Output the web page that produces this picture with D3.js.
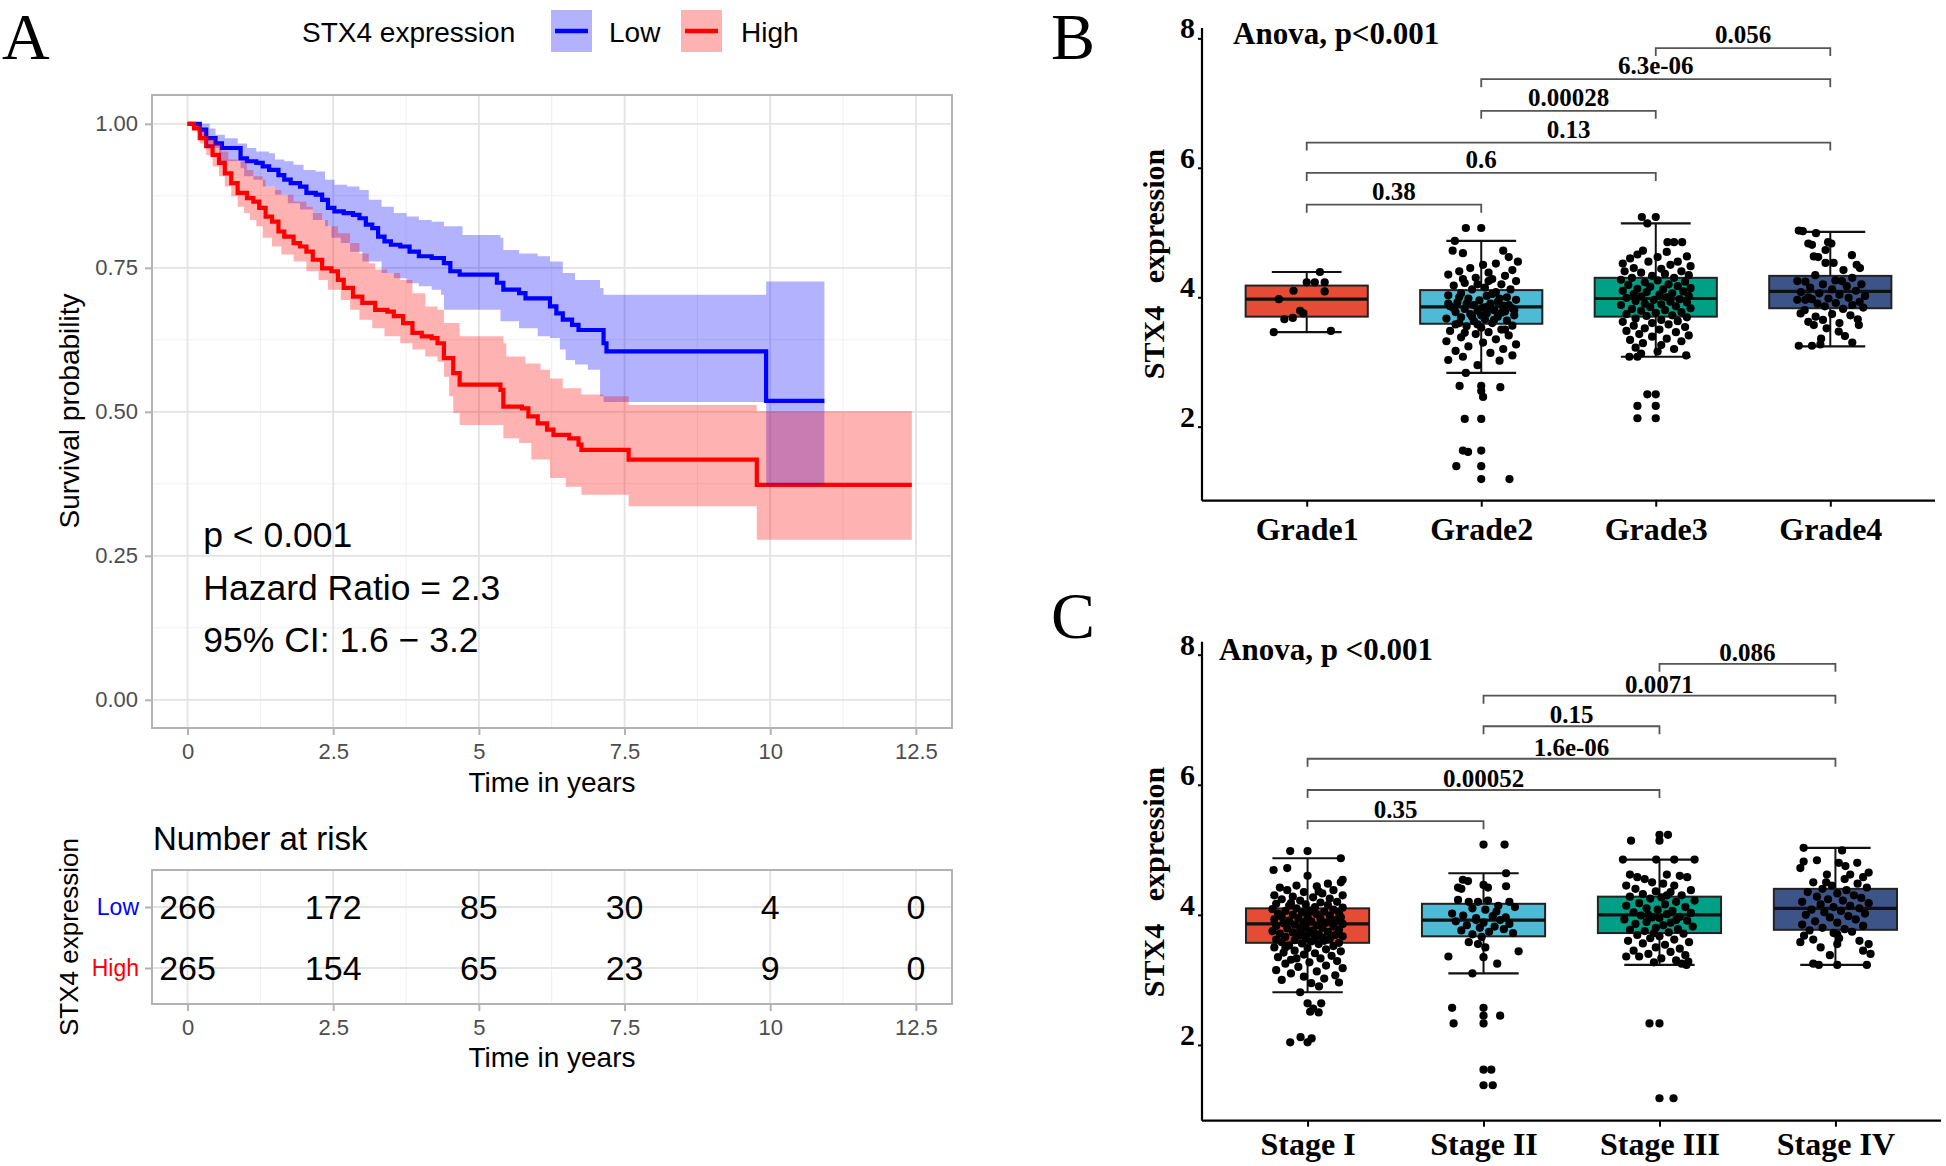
<!DOCTYPE html>
<html>
<head>
<meta charset="utf-8">
<script src="https://cdn.jsdelivr.net/npm/d3@7"></script>
<style>
  body { margin: 0; background: #fff; }
  svg { display: block; }
</style>
</head>
<body>
<script>
// ---------- panel A : Kaplan-Meier data (time in years, survival) ----------
const groups = ["Low", "High"];
const groupColors = ["#0000ff", "#ff0000"];
const riskTimes = [0, 2.5, 5, 7.5, 10, 12.5];
const riskLow = [266, 172, 85, 30, 4, 0];
const riskHigh = [265, 154, 65, 23, 9, 0];
const lowEnd = 10.93, highEnd = 12.43;

const lowCurve = [[0,1],[0.21,0.99],[0.32,0.975],[0.48,0.966],[0.59,0.958],[0.91,0.94],[1.02,0.935],[1.18,0.932],[1.29,0.926],[1.4,0.92],[1.56,0.911],[1.66,0.903],[1.77,0.897],[1.93,0.891],[2.04,0.88],[2.2,0.877],[2.31,0.868],[2.41,0.854],[2.52,0.848],[2.68,0.845],[2.84,0.842],[2.95,0.836],[3.06,0.825],[3.17,0.819],[3.27,0.804],[3.38,0.796],[3.49,0.79],[3.65,0.787],[3.81,0.778],[3.97,0.77],[4.19,0.767],[4.4,0.758],[4.51,0.744],[4.67,0.738],[5.31,0.724],[5.42,0.712],[5.69,0.706],[5.8,0.697],[6.22,0.683],[6.33,0.671],[6.44,0.66],[6.6,0.651],[6.71,0.642],[7.14,0.619],[7.19,0.605],[9.93,0.519]];
const lowUpper = [[0,1],[0.38,0.992],[0.48,0.981],[0.64,0.975],[0.86,0.966],[1.02,0.958],[1.18,0.952],[1.4,0.949],[1.5,0.938],[1.66,0.935],[1.82,0.929],[1.99,0.92],[2.2,0.917],[2.36,0.903],[2.52,0.894],[2.74,0.891],[2.95,0.885],[3.11,0.868],[3.33,0.856],[3.54,0.845],[3.76,0.839],[3.97,0.833],[4.19,0.83],[4.4,0.822],[4.72,0.807],[5.37,0.802],[5.42,0.781],[5.69,0.775],[6.01,0.77],[6.22,0.761],[6.44,0.741],[6.65,0.729],[7.08,0.715],[7.14,0.703],[9.93,0.726]];
const lowLower = [[0,1],[0.11,0.998],[0.21,0.978],[0.32,0.958],[0.54,0.935],[0.91,0.923],[0.97,0.909],[1.13,0.903],[1.29,0.891],[1.5,0.877],[1.72,0.862],[1.93,0.851],[2.15,0.833],[2.36,0.822],[2.47,0.802],[2.63,0.793],[2.79,0.778],[3,0.761],[3.33,0.741],[3.54,0.732],[3.76,0.723],[3.97,0.718],[4.19,0.712],[4.35,0.703],[4.4,0.677],[5.37,0.657],[5.69,0.645],[6.01,0.631],[6.22,0.628],[6.39,0.608],[6.49,0.59],[6.65,0.582],[6.87,0.573],[7.08,0.527],[7.14,0.517],[9.93,0.373]];

const highCurve = [[0,1],[0.11,0.992],[0.21,0.975],[0.32,0.961],[0.43,0.946],[0.54,0.932],[0.64,0.914],[0.75,0.897],[0.86,0.88],[1.02,0.871],[1.13,0.865],[1.23,0.854],[1.34,0.839],[1.45,0.83],[1.56,0.813],[1.66,0.804],[1.82,0.793],[1.93,0.787],[2.04,0.778],[2.15,0.764],[2.31,0.749],[2.47,0.744],[2.58,0.729],[2.68,0.715],[2.84,0.7],[3,0.689],[3.22,0.677],[3.43,0.674],[3.54,0.666],[3.7,0.654],[3.86,0.637],[4.02,0.631],[4.19,0.628],[4.29,0.619],[4.4,0.593],[4.56,0.567],[4.67,0.547],[5.37,0.538],[5.42,0.509],[5.74,0.506],[5.85,0.492],[6.01,0.48],[6.17,0.469],[6.28,0.46],[6.55,0.454],[6.71,0.443],[6.76,0.434],[7.57,0.417],[9.77,0.373]];
const highUpper = [[0,1],[0.21,0.99],[0.32,0.975],[0.48,0.966],[0.59,0.952],[0.7,0.938],[0.86,0.935],[1.02,0.92],[1.13,0.909],[1.29,0.903],[1.34,0.891],[1.5,0.885],[1.61,0.877],[1.82,0.865],[2.04,0.856],[2.15,0.845],[2.31,0.833],[2.41,0.822],[2.58,0.81],[2.79,0.793],[2.95,0.775],[3.11,0.758],[3.22,0.747],[3.43,0.741],[3.65,0.729],[3.86,0.706],[4.08,0.683],[4.29,0.677],[4.4,0.654],[4.67,0.631],[5.42,0.619],[5.47,0.596],[5.8,0.584],[6.06,0.573],[6.22,0.558],[6.44,0.541],[6.76,0.53],[7.14,0.527],[7.57,0.512],[9.77,0.501]];
const highLower = [[0,1],[0.11,0.995],[0.21,0.966],[0.32,0.946],[0.43,0.926],[0.54,0.909],[0.64,0.891],[0.75,0.874],[0.86,0.856],[0.97,0.845],[1.07,0.833],[1.18,0.822],[1.29,0.802],[1.45,0.787],[1.61,0.773],[1.82,0.761],[2.04,0.744],[2.25,0.729],[2.41,0.712],[2.63,0.694],[2.79,0.677],[2.95,0.66],[3.17,0.645],[3.38,0.631],[3.65,0.619],[3.86,0.608],[4.08,0.596],[4.29,0.587],[4.4,0.561],[4.49,0.527],[4.56,0.498],[4.67,0.477],[5.42,0.454],[5.69,0.446],[5.9,0.417],[6.22,0.385],[6.49,0.37],[6.76,0.356],[7.57,0.336],[9.77,0.278]];

const kmNotes = ["p < 0.001", "Hazard Ratio = 2.3", "95% CI: 1.6 \u2212 3.2"];

// ---------- panels B / C : boxplot data ----------
const gradeCats = ["Grade1", "Grade2", "Grade3", "Grade4"];
// [lower whisker, Q1, median, Q3, upper whisker]
const gradeBox = [[3.46,3.70,3.97,4.18,4.39],[2.83,3.59,3.85,4.11,4.87],[3.08,3.70,3.98,4.30,5.14],[3.24,3.83,4.09,4.33,5.01]];
// [from, to, label, height]
const gradeComps = [[0,1,"0.38",5.43],[0,2,"0.6",5.92],[0,3,"0.13",6.39],[1,2,"0.00028",6.88],[1,3,"6.3e-06",7.37],[2,3,"0.056",7.85]];

const stageCats = ["Stage I", "Stage II", "Stage III", "Stage IV"];
const stageBox = [[2.81,3.57,3.86,4.10,4.87],[3.10,3.67,3.92,4.17,4.64],[3.23,3.72,4.00,4.28,4.85],[3.23,3.77,4.10,4.40,5.03]];
const stageComps = [[0,1,"0.35",5.44],[0,2,"0.00052",5.92],[0,3,"1.6e-06",6.40],[1,2,"0.15",6.90],[1,3,"0.0071",7.37],[2,3,"0.086",7.86]];

const boxFills = ["#E64B35", "#4DBBD5", "#00A087", "#3C5488"];

// jittered samples: [jitter (-1..1), expression]
const grade1Pts = [[0.36,4.39],[0,4.23],[0.22,4.23],[0.49,4.23],[-0.36,4.10],[0.49,4.09],[-0.76,3.97],[-0.18,3.79],[-0.09,3.75],[-0.61,3.66],[-0.38,3.68],[-0.9,3.46],[0.66,3.48]];
const grade2Pts = [[-0.42,5.07],[0,5.07],[-0.72,4.87],[-0.78,4.72],[-0.5,4.68],[0.6,4.72],[0.75,4.62],[1,4.55],[0.05,4.5],[-0.3,4.45],[0.4,4.52],[-0.6,4.4],[0.85,4.42],[0.2,4.38],[-0.9,4.35],[0.65,4.33],[-0.15,4.3],[0.95,4.25],[0.3,4.28],[-0.45,4.22],[0.55,4.2],[-0.75,4.18],[0.1,4.15],[-0.25,4.12],[0.8,4.12],[0.4,4.08],[-0.55,4.06],[-0.9,4.03],[0.15,4.02],[0.7,4],[-0.35,3.98],[0.95,3.96],[-0.05,3.95],[0.45,3.93],[-0.65,3.92],[0.25,3.9],[-0.2,3.88],[0.6,3.87],[-0.85,3.86],[0.05,3.84],[0.85,3.83],[-0.45,3.82],[0.35,3.8],[-0.1,3.79],[0.65,3.78],[-0.7,3.77],[0.15,3.75],[-0.3,3.74],[0.9,3.72],[0.45,3.7],[-0.55,3.69],[-0.95,3.67],[0.1,3.66],[0.7,3.64],[-0.2,3.63],[0.3,3.6],[-0.7,3.58],[0.85,3.56],[-0.4,3.55],[0,3.53],[0.55,3.5],[-0.85,3.48],[0.2,3.46],[-0.15,3.43],[0.75,3.41],[-0.55,3.38],[0.4,3.35],[-0.95,3.32],[0.05,3.3],[0.95,3.27],[-0.35,3.24],[0.6,3.2],[-0.7,3.17],[0.25,3.14],[0.85,3.1],[-0.5,3.08],[0.5,3.02],[-0.1,2.95],[-0.9,3.03],[-0.42,2.83],[-0.6,4],[0.3,4.05],[-0.1,4.2],[0.5,3.98],[-0.4,3.9],[0.15,3.85],[-0.75,3.83],[0.75,3.88],[-0.25,3.7],[0.55,3.76],[-0.6,3.6],[0.35,3.65],[0,3.72],[-0.45,3.45],[0.65,3.5],[-0.1,3.58],[0.2,4.25],[-0.5,4.28],[0.9,3.8],[-0.9,3.9],[-0.59,2.63],[0,2.63],[0,2.55],[0.05,2.46],[0.52,2.61],[-0.45,2.12],[0,2.12],[-0.5,1.63],[-0.36,1.61],[0,1.63],[-0.68,1.39],[0,1.39],[0,1.19],[0.77,1.19]];
const grade3Pts = [[-0.38,5.24],[0,5.24],[-0.23,5.14],[-0.23,2.5],[0,2.5],[-0.5,2.32],[0,2.32],[-0.5,2.13],[0,2.13],[-0.72,3.08],[-0.5,3.08],[0.83,3.1],[0.32,4.85],[0.5,4.85],[0.72,4.85],[-0.35,4.72],[-0.5,4.66],[0.85,4.63],[-0.7,4.6],[0.05,4.62],[0.3,4.7],[0.6,4.55],[-0.9,4.52],[-0.2,4.55],[0.95,4.48],[0.4,4.5],[-0.6,4.45],[0.15,4.44],[-0.85,4.4],[0.7,4.4],[-0.4,4.38],[0.25,4.36],[0.9,4.34],[-0.1,4.33],[-0.65,4.3],[0.5,4.3],[-0.95,4.27],[0.05,4.26],[0.8,4.24],[-0.3,4.23],[0.35,4.2],[-0.75,4.19],[0.6,4.17],[-0.15,4.16],[0.95,4.14],[-0.5,4.13],[0.2,4.12],[-0.9,4.1],[0.75,4.09],[-0.25,4.08],[0.45,4.06],[-0.6,4.05],[0.1,4.04],[0.9,4.02],[-0.4,4.01],[0.3,4],[-0.8,3.99],[0.65,3.97],[-0.05,3.96],[-0.55,3.94],[0.4,3.93],[0.85,3.92],[-0.3,3.9],[0.15,3.89],[-0.95,3.88],[0.55,3.86],[-0.15,3.85],[0.95,3.83],[-0.65,3.82],[0.25,3.8],[-0.4,3.79],[0.7,3.77],[0,3.76],[-0.8,3.74],[0.45,3.72],[-0.25,3.71],[0.85,3.69],[-0.55,3.67],[0.15,3.65],[0.6,3.63],[-0.9,3.62],[-0.1,3.6],[0.35,3.58],[-0.6,3.56],[0.8,3.54],[-0.3,3.52],[0.1,3.5],[-0.8,3.48],[0.55,3.46],[-0.45,3.43],[0.9,3.41],[-0.1,3.39],[0.3,3.36],[-0.7,3.34],[0.7,3.32],[-0.35,3.29],[0.15,3.26],[-0.55,3.22],[0.5,3.2],[0.05,3.16],[-0.4,3.13]];
const grade4Pts = [[-0.86,5.03],[-0.75,5.02],[-0.39,4.99],[-0.6,4.83],[-0.5,4.81],[-0.06,4.85],[0.03,4.83],[-0.13,4.73],[-0.45,4.63],[-0.33,4.62],[0.59,4.65],[0.81,4.45],[0.72,4.5],[-0.13,4.53],[0.09,4.53],[0.36,4.42],[-0.41,4.34],[-0.9,4.25],[-0.68,4.24],[0.14,4.26],[0.32,4.25],[0.6,4.3],[0.85,4.2],[-0.2,4.2],[0.45,4.17],[-0.55,4.15],[0.05,4.12],[0.7,4.1],[-0.8,4.08],[-0.3,4.06],[0.25,4.04],[0.95,4.02],[-0.6,4],[0.5,3.99],[-0.05,3.98],[-0.9,3.96],[-0.68,3.96],[-0.5,3.97],[0.8,3.93],[0.15,3.91],[-0.35,3.9],[0.6,3.88],[-0.15,3.86],[0.9,3.84],[0.35,3.82],[-0.7,3.8],[-0.81,3.75],[0.05,3.74],[0.55,3.72],[-0.4,3.7],[0.75,3.66],[-0.2,3.65],[-0.6,3.62],[-0.45,3.57],[0.25,3.6],[0.78,3.57],[0.23,3.47],[-0.1,3.52],[0.4,3.4],[-0.25,3.36],[-0.86,3.25],[-0.5,3.25],[-0.27,3.27],[0.6,3.3]];

const stage1Pts = [[-0.47,4.98],[0,4.98],[0.9,4.87],[0.31,2.9],[-0.2,2.81],[0,2.64],[0.37,2.64],[0.07,2.51],[0.3,2.5],[0.15,2.56],[-0.47,2.04],[-0.19,2.12],[0,2.04],[0.11,2.1],[-0.92,4.69],[0.95,4.54],[-0.55,4.72],[0,4.6],[0.55,4.48],[0.9,4.5],[-0.3,4.45],[-0.75,4.42],[0.25,4.44],[-0.55,4.38],[0.7,4.38],[-0.1,4.35],[0.4,4.33],[-0.9,4.3],[0.95,4.3],[-0.4,4.28],[0.15,4.27],[0.6,4.25],[-0.7,4.24],[-0.2,4.22],[0.8,4.2],[0.35,4.19],[-0.85,4.17],[-0.05,4.16],[0.55,4.15],[-0.5,4.14],[0.2,4.12],[0.95,4.11],[-0.3,4.1],[-0.95,4.09],[0.7,4.08],[0.05,4.07],[-0.6,4.06],[0.45,4.05],[-0.15,4.04],[0.85,4.03],[-0.8,4.02],[0.25,4.01],[-0.4,4],[0.6,3.99],[0,3.98],[-0.7,3.97],[0.9,3.96],[-0.25,3.95],[0.35,3.94],[-0.9,3.93],[0.75,3.92],[-0.5,3.91],[0.1,3.9],[-0.1,3.89],[0.5,3.88],[-0.65,3.87],[0.95,3.86],[-0.35,3.85],[0.25,3.84],[-0.85,3.83],[0.7,3.82],[-0.05,3.81],[0.4,3.8],[-0.55,3.79],[-0.2,3.78],[0.85,3.77],[0.15,3.76],[-0.95,3.75],[0.55,3.74],[-0.4,3.73],[0.05,3.72],[-0.75,3.71],[0.3,3.7],[0.75,3.69],[-0.25,3.68],[0.95,3.67],[-0.6,3.66],[0.2,3.65],[-0.05,3.64],[0.6,3.63],[-0.85,3.62],[-0.35,3.61],[0.45,3.6],[0.1,3.59],[-0.7,3.58],[0.85,3.57],[-0.15,3.56],[0.3,3.55],[-0.5,3.53],[0.7,3.52],[-0.9,3.5],[0,3.49],[0.5,3.47],[-0.35,3.45],[0.9,3.44],[-0.65,3.42],[0.2,3.41],[-0.1,3.39],[0.65,3.37],[-0.8,3.35],[0.35,3.33],[-0.45,3.31],[0.8,3.29],[0.05,3.27],[-0.6,3.25],[0.5,3.22],[-0.25,3.2],[0.95,3.18],[-0.85,3.15],[0.25,3.13],[-0.45,3.1],[0.75,3.07],[-0.1,3.05],[0.45,3.02],[-0.7,3],[0.85,2.96],[0.1,2.95],[-0.3,3.33],[0.6,3.9],[-0.45,4.18],[0.3,4.36],[-0.15,3.7],[0.15,4.05],[-0.6,3.5],[0.4,3.65]];
const stage2Pts = [[0,5.08],[0.57,5.08],[-0.85,2.57],[0,2.57],[0,2.45],[0.45,2.45],[-0.81,2.33],[0,2.33],[0,1.62],[0.21,1.62],[0,1.38],[0.25,1.38],[0.61,4.64],[-0.56,4.54],[-0.42,4.52],[0,4.46],[0.12,4.42],[-0.69,4.42],[-0.6,4.4],[0.61,4.44],[-0.69,4.23],[-0.4,4.2],[-0.15,4.2],[0.12,4.22],[0.7,4.2],[0.85,4.12],[-0.3,4.1],[0.05,4.08],[0.35,4.05],[-0.85,4.02],[-0.55,3.99],[0.25,3.98],[0.6,3.96],[-0.2,3.95],[0.45,3.92],[-0.75,3.9],[0,3.88],[0.7,3.86],[-0.45,3.84],[0.3,3.82],[-0.1,3.8],[0.55,3.78],[-0.6,3.76],[0.15,3.74],[0.8,3.72],[-0.3,3.7],[-0.05,3.66],[-0.15,3.55],[0.05,3.5],[-0.4,3.58],[0.95,3.44],[-0.95,3.36],[0.37,3.25],[-0.3,3.1],[0,3.35],[-0.2,3.92],[0.4,4.14]];
const stage3Pts = [[-0.77,5.14],[0,5.23],[0.23,5.23],[0,5.14],[-0.27,2.33],[0,2.33],[0,1.18],[0.38,1.18],[-0.99,4.85],[-0.09,4.85],[0.4,4.85],[0.95,4.85],[0.73,3.23],[0.78,3.28],[-0.8,4.62],[-0.6,4.58],[0.2,4.62],[0.55,4.6],[0.75,4.58],[-0.4,4.55],[-0.2,4.5],[0.1,4.48],[-0.9,4.45],[0.4,4.45],[-0.65,4.4],[0.85,4.38],[-0.1,4.36],[0.3,4.35],[-0.45,4.32],[0.6,4.3],[-0.8,4.28],[0.05,4.27],[-0.25,4.25],[0.95,4.22],[0.45,4.2],[-0.55,4.18],[0.15,4.16],[-0.9,4.14],[0.7,4.12],[-0.35,4.1],[-0.05,4.08],[0.35,4.06],[-0.7,4.04],[0.85,4.03],[0.2,4.01],[-0.5,3.99],[0.55,3.97],[-0.2,3.96],[0,3.95],[-0.95,3.93],[0.75,3.91],[-0.35,3.89],[0.3,3.88],[-0.65,3.86],[0.1,3.84],[0.9,3.82],[-0.1,3.8],[0.5,3.78],[-0.8,3.77],[-0.4,3.75],[0.25,3.73],[0.65,3.71],[-0.6,3.69],[0,3.67],[-0.25,3.64],[0.4,3.62],[-0.85,3.6],[0.8,3.58],[-0.45,3.56],[0.15,3.54],[-0.1,3.5],[0.55,3.48],[-0.7,3.45],[0.3,3.43],[-0.3,3.4],[0.7,3.38],[-0.55,3.36],[-0.9,3.36],[0.05,3.33],[0.45,3.3],[-0.15,3.27],[0.6,3.25],[0.2,4.3],[-0.3,4],[0.45,3.92],[-0.15,3.72]];
const stage4Pts = [[-0.86,5.03],[0.18,4.99],[-0.86,4.82],[-0.5,4.84],[-0.95,4.72],[0.09,4.8],[0.27,4.75],[0.59,4.8],[-0.23,4.62],[0.4,4.62],[0.25,4.55],[0.75,4.58],[0.9,4.65],[-0.6,4.5],[0.6,4.48],[-0.1,4.45],[0.85,4.42],[-0.35,4.4],[0.3,4.38],[-0.75,4.35],[0.05,4.33],[0.5,4.3],[-0.5,4.28],[0.7,4.26],[-0.2,4.24],[0.2,4.22],[-0.9,4.2],[0.9,4.18],[-0.4,4.16],[0.4,4.14],[-0.05,4.12],[0.65,4.1],[-0.65,4.08],[0.15,4.06],[-0.3,4.04],[0.8,4.02],[-0.8,4],[0.35,3.98],[-0.15,3.96],[0.55,3.93],[-0.55,3.9],[0.05,3.88],[-0.9,3.85],[0.75,3.83],[-0.35,3.8],[0.25,3.78],[-0.7,3.76],[0.45,3.74],[-0.05,3.72],[-0.85,3.68],[0.1,3.64],[-0.6,3.62],[-0.95,3.58],[0.05,3.55],[0.65,3.6],[-0.4,3.5],[0.75,3.45],[0.95,3.4],[0.05,3.7],[-0.15,3.38],[-0.6,3.25],[-0.45,3.23],[0.05,3.23],[0.85,3.23],[0.9,3.55],[-0.25,4.5]];

const sans = '"Liberation Sans", Arial, sans-serif';
const serif = '"Liberation Serif", "Times New Roman", serif';

let width = 1946, height = 1166;
let svg = d3.select("body").append("svg")
    .attr("width", width)
    .attr("height", height);
svg.append("rect").attr("width", width).attr("height", height).attr("fill", "#fff");

// panel letters
[["A", 2, 59], ["B", 1051, 59], ["C", 1051, 638]].forEach(l => {
    svg.append("text").attr("x", l[1]).attr("y", l[2])
        .attr("font-family", serif).attr("font-size", 66).text(l[0]);
});

// ================= panel A : KM curve =================
let kmX = d3.scaleLinear().domain([-0.61, 13.12]).range([152, 952]);
let kmY = d3.scaleLinear().domain([-0.049, 1.05]).range([728, 95]);

let km = svg.append("g").attr("font-family", sans);

function gridLines(g, xs, ys, x, y, y0, y1, x0, x1, color, w) {
    g.selectAll(null).data(xs).join("line")
        .attr("x1", d => x(d)).attr("x2", d => x(d)).attr("y1", y0).attr("y2", y1)
        .attr("stroke", color).attr("stroke-width", w);
    g.selectAll(null).data(ys).join("line")
        .attr("y1", d => y(d)).attr("y2", d => y(d)).attr("x1", x0).attr("x2", x1)
        .attr("stroke", color).attr("stroke-width", w);
}
let minorX = [1.25, 3.75, 6.25, 8.75, 11.25];
gridLines(km, minorX, [0.125, 0.375, 0.625, 0.875], kmX, kmY, 95, 728, 152, 952, "#efefef", 1);
gridLines(km, riskTimes, [0, 0.25, 0.5, 0.75, 1], kmX, kmY, 95, 728, 152, 952, "#e3e3e3", 1.8);

function stepVerts(pts, end) {
    let out = [];
    pts.forEach((p, i) => {
        let next = i < pts.length - 1 ? pts[i + 1][0] : end;
        out.push([p[0], p[1]], [next, p[1]]);
    });
    return out;
}
let kmLine = d3.line().x(d => kmX(d[0])).y(d => kmY(d[1]));

// lines first, confidence ribbons over them (as in the figure)
[[lowCurve, lowEnd, 0], [highCurve, highEnd, 1]].forEach(c => {
    km.append("path").attr("d", kmLine(stepVerts(c[0], c[1])))
        .attr("fill", "none").attr("stroke", groupColors[c[2]])
        .attr("stroke-width", 4.2).attr("stroke-linejoin", "miter");
});
[[lowUpper, lowLower, lowEnd, 0], [highUpper, highLower, highEnd, 1]].forEach(b => {
    let verts = stepVerts(b[0], b[2]).concat(stepVerts(b[1], b[2]).reverse());
    km.append("path").attr("d", kmLine(verts) + "Z")
        .attr("fill", groupColors[b[3]]).attr("fill-opacity", 0.3);
});

km.append("rect").attr("x", 152).attr("y", 95).attr("width", 800).attr("height", 633)
    .attr("fill", "none").attr("stroke", "#b3b3b3").attr("stroke-width", 2);

function styleAxis(g) {
    g.select(".domain").remove();
    g.selectAll(".tick line").attr("stroke", "#b3b3b3").attr("stroke-width", 2);
    g.selectAll(".tick text").attr("fill", "#4d4d4d").attr("font-family", sans);
}
km.append("g").attr("transform", "translate(0,728)")
    .call(d3.axisBottom(kmX).tickValues(riskTimes).tickFormat(d3.format("")).tickSize(7).tickPadding(8))
    .attr("font-size", 22).call(styleAxis);
km.append("g").attr("transform", "translate(152,0)")
    .call(d3.axisLeft(kmY).tickValues([0, 0.25, 0.5, 0.75, 1]).tickFormat(d3.format(".2f")).tickSize(7).tickPadding(7))
    .attr("font-size", 22).call(styleAxis);

km.append("text").attr("x", 552).attr("y", 782).attr("dy", "0.35em").attr("text-anchor", "middle")
    .attr("font-size", 28).text("Time in years");
km.append("text").attr("transform", "translate(69,411) rotate(-90)").attr("dy", "0.35em")
    .attr("text-anchor", "middle").attr("font-size", 28).text("Survival probability");

kmNotes.forEach((t, i) => {
    km.append("text").attr("x", kmX(0.27)).attr("y", kmY(0.286 - i * 0.091)).attr("dy", "0.35em")
        .attr("font-size", 35.5).text(t);
});

// legend
let leg = km.append("g");
leg.append("text").attr("x", 302).attr("y", 32).attr("dy", "0.35em").attr("font-size", 28).text("STX4 expression");
[[551, 609], [681, 741]].forEach((p, i) => {
    leg.append("rect").attr("x", p[0]).attr("y", 10).attr("width", 41).attr("height", 42)
        .attr("fill", groupColors[i]).attr("fill-opacity", 0.3);
    leg.append("line").attr("x1", p[0] + 4).attr("x2", p[0] + 37).attr("y1", 31).attr("y2", 31)
        .attr("stroke", groupColors[i]).attr("stroke-width", 4.5);
    leg.append("text").attr("x", p[1]).attr("y", 32).attr("dy", "0.35em").attr("font-size", 28).text(groups[i]);
});

// ================= panel A : risk table =================
let rt = svg.append("g").attr("font-family", sans);
let rtY = d3.scalePoint().domain(groups).range([907, 968]);
gridLines(rt, minorX, [], kmX, rtY, 870, 1004, 152, 952, "#efefef", 1);
gridLines(rt, riskTimes, groups, kmX, rtY, 870, 1004, 152, 952, "#e3e3e3", 1.8);
rt.append("rect").attr("x", 152).attr("y", 870).attr("width", 800).attr("height", 134)
    .attr("fill", "none").attr("stroke", "#b3b3b3").attr("stroke-width", 2);

[riskLow, riskHigh].forEach((vals, gi) => {
    rt.selectAll(null).data(vals).join("text")
        .attr("x", (d, i) => kmX(riskTimes[i])).attr("y", rtY(groups[gi])).attr("dy", "0.35em")
        .attr("text-anchor", "middle").attr("font-size", 34).text(d => d);
});
rt.append("g").attr("transform", "translate(0,1004)")
    .call(d3.axisBottom(kmX).tickValues(riskTimes).tickFormat(d3.format("")).tickSize(7).tickPadding(8))
    .attr("font-size", 22).call(styleAxis);
let rtAxis = rt.append("g").attr("transform", "translate(152,0)")
    .call(d3.axisLeft(rtY).tickSize(7).tickPadding(6))
    .attr("font-size", 23).call(styleAxis);
rtAxis.selectAll(".tick text").attr("fill", (d, i) => groupColors[i]);

rt.append("text").attr("x", 153).attr("y", 838).attr("dy", "0.35em").attr("font-size", 33).text("Number at risk");
rt.append("text").attr("x", 552).attr("y", 1057).attr("dy", "0.35em").attr("text-anchor", "middle")
    .attr("font-size", 28).text("Time in years");
rt.append("text").attr("transform", "translate(69,937) rotate(-90)").attr("dy", "0.35em")
    .attr("text-anchor", "middle").attr("font-size", 26).text("STX4 expression");

// ================= panels B / C : boxplots =================
function boxPanel(o) {
    let x = d3.scalePoint().domain(o.cats).range(o.xRange).padding(0.6);
    let y = d3.scaleLinear().domain(o.yDomain).range(o.yRange);
    let step = x.step(), boxW = step * 0.7, capW = step * 0.4, jit = step * 0.21;
    let g = svg.append("g").attr("font-family", serif).attr("font-weight", "bold");

    // axes
    let ya = g.append("g").attr("transform", `translate(${o.xRange[0]},0)`)
        .call(d3.axisLeft(y).tickValues([2, 4, 6, 8]).tickFormat(d3.format("d")).tickSize(4).tickPadding(3))
        .attr("font-size", 30).attr("font-family", serif);
    ya.selectAll(".tick text").attr("dy", "-0.02em").attr("fill", "#000");
    let xa = g.append("g").attr("transform", `translate(0,${o.yRange[0]})`)
        .call(d3.axisBottom(x).tickSize(6).tickPadding(o.xPad))
        .attr("font-size", 32).attr("font-family", serif);
    xa.selectAll(".tick text").attr("fill", "#000");
    [ya, xa].forEach(a => {
        a.select(".domain").attr("stroke", "#000").attr("stroke-width", 2.2);
        a.selectAll(".tick line").attr("stroke", "#000").attr("stroke-width", 2);
    });
    xa.select(".domain").attr("d", `M${o.xRange[0]},0H${o.xRange[1]}`);
    ya.select(".domain").attr("d", `M0,${o.yRange[1]}V${o.yRange[0]}`);

    g.append("text").attr("transform", `translate(1153,${o.titleY}) rotate(-90)`).attr("dy", "0.35em")
        .attr("text-anchor", "middle").attr("font-size", 30).style("white-space", "pre")
        .text("STX4   expression");

    // whiskers + caps, then boxes
    o.stats.forEach((s, i) => {
        let cx = x(o.cats[i]);
        g.append("line").attr("x1", cx).attr("x2", cx).attr("y1", y(s[0])).attr("y2", y(s[4]))
            .attr("stroke", "#111").attr("stroke-width", 2);
        [s[0], s[4]].forEach(v => {
            g.append("line").attr("x1", cx - capW / 2).attr("x2", cx + capW / 2).attr("y1", y(v)).attr("y2", y(v))
                .attr("stroke", "#111").attr("stroke-width", 2.2);
        });
        g.append("rect").attr("x", cx - boxW / 2).attr("width", boxW)
            .attr("y", y(s[3])).attr("height", y(s[1]) - y(s[3]))
            .attr("fill", boxFills[i]).attr("stroke", "#222").attr("stroke-width", 2);
        g.append("line").attr("x1", cx - boxW / 2).attr("x2", cx + boxW / 2).attr("y1", y(s[2])).attr("y2", y(s[2]))
            .attr("stroke", "#111").attr("stroke-width", 3.2);
    });

    // jittered points
    o.points.forEach((pts, i) => {
        let cx = x(o.cats[i]);
        g.selectAll(null).data(pts).join("circle")
            .attr("cx", d => cx + d[0] * jit).attr("cy", d => y(d[1])).attr("r", 4.1).attr("fill", "#000");
    });

    // comparison brackets
    o.comps.forEach(c => {
        let x1 = x(o.cats[c[0]]), x2 = x(o.cats[c[1]]), yy = y(c[3]);
        g.append("path").attr("d", `M${x1},${yy + 8}V${yy}H${x2}V${yy + 8}`)
            .attr("fill", "none").attr("stroke", "#555").attr("stroke-width", 1.8);
        g.append("text").attr("x", (x1 + x2) / 2).attr("y", yy - o.labGap).attr("text-anchor", "middle")
            .attr("font-size", 25).text(c[2]);
    });

    g.append("text").attr("x", o.anovaX).attr("y", y(8.08)).attr("dy", "0.35em")
        .attr("font-size", 31).style("white-space", "pre").text(o.anova);
}

boxPanel({
    cats: gradeCats, stats: gradeBox, comps: gradeComps,
    points: [grade1Pts, grade2Pts, grade3Pts, grade4Pts],
    xRange: [1202, 1935], yDomain: [0.856, 8.16], yRange: [500.7, 28],
    xPad: 11, titleY: 264, labGap: 5, anovaX: 1233, anova: "Anova, p<0.001"
});
boxPanel({
    cats: stageCats, stats: stageBox, comps: stageComps,
    points: [stage1Pts, stage2Pts, stage3Pts, stage4Pts],
    xRange: [1202, 1941], yDomain: [0.835, 8.2], yRange: [1120.7, 641.7],
    xPad: 6, titleY: 882, labGap: 3, anovaX: 1219, anova: "Anova, p <0.001"
});
</script>
</body>
</html>
